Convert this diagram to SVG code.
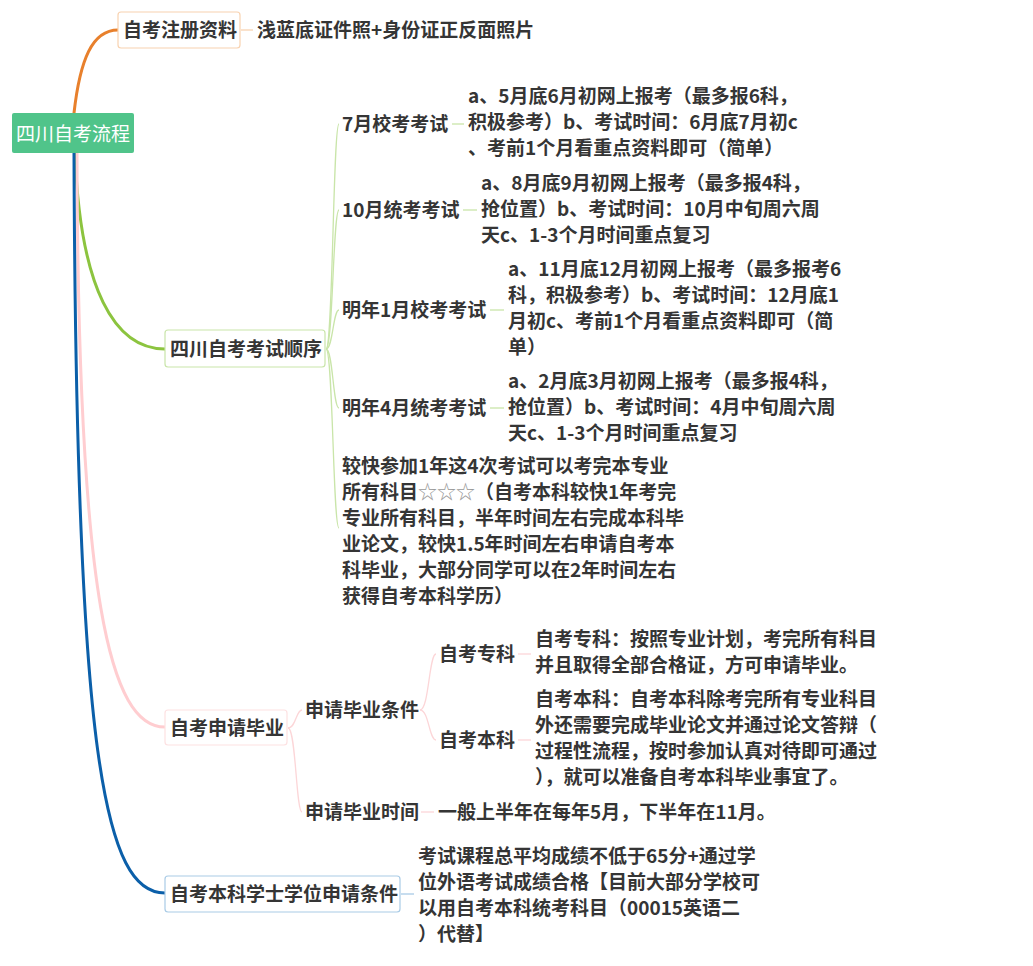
<svg xmlns="http://www.w3.org/2000/svg" width="1033" height="966" viewBox="0 0 1033 966">
<style>
text{font-family:"Noto Sans CJK SC","Noto Sans",sans-serif;font-size:19px;font-weight:bold;fill:#353535}
.root{fill:#fff;font-weight:normal}
.box{fill:#fff;stroke-width:1.2}
.main{fill:none;stroke-width:3;stroke-linecap:round}
.sub{fill:none;stroke-width:1.3}
.star{fill:#9a9a9a;font-weight:normal}
</style>
<rect width="1033" height="966" fill="#fff"/>
<g id="connectors">
<path class="main" stroke="#e8802c" d="M74,113 C80,60 92,30 118,30"/>
<path class="main" stroke="#8cc43f" d="M75,153 C80,290 115,349 165,349"/>
<path class="main" stroke="#ffcdd0" d="M77,153 C78,600 110,727 165,727"/>
<path class="main" stroke="#0b5fa9" d="M74,153 C76,760 105,893 165,893"/>
<path class="sub" stroke="#f8d2b0" d="M241,30 H253"/>
<g stroke="#c9e5a9">
<path class="sub" d="M326,349 C333,349 333,124 339,124"/>
<path class="sub" d="M326,349 C333,349 333,210 339,210"/>
<path class="sub" d="M326,349 C333,349 333,310 339,310"/>
<path class="sub" d="M326,349 C333,349 333,408 339,408"/>
<path class="sub" d="M326,349 C333,349 333,528 339,528"/>
<path class="sub" d="M452,124 H464"/>
<path class="sub" d="M463,210 H477"/>
<path class="sub" d="M490,310 H504"/>
<path class="sub" d="M490,408 H504"/>
</g>
<g stroke="#fcd6d8">
<path class="sub" d="M288,728 C296,728 296,710 302,710"/>
<path class="sub" d="M288,728 C296,728 296,812 302,812"/>
<path class="sub" d="M420,710 C429,710 429,654 436,654"/>
<path class="sub" d="M420,710 C429,710 429,740 436,740"/>
<path class="sub" d="M518,654 H531"/>
<path class="sub" d="M518,740 H531"/>
<path class="sub" d="M421,812 H434"/>
</g>
<path class="sub" stroke="#a9cbe6" d="M401,894 H414"/>
</g>
<g id="root">
<rect x="12" y="113" width="122" height="40" rx="2" fill="#50c48a"/>
<text class="root" x="16" y="141">四川自考流程</text>
</g>
<g id="reg">
<rect class="box" x="118" y="12" width="122" height="36" rx="3" stroke="#f8d2b0"/>
<text x="123" y="37">自考注册资料</text>
</g>
<g id="reg-leaf"><text x="257" y="37">浅蓝底证件照+身份证正反面照片</text></g>
<g id="order">
<rect class="box" x="165" y="330" width="160" height="37" rx="3" stroke="#c9e5a9"/>
<text x="170" y="356">四川自考考试顺序</text>
</g>
<g id="jul"><text x="342" y="131">7月校考考试</text></g>
<g id="jul-leaf">
<text x="468" y="103">a、5月底6月初网上报考（最多报6科，</text>
<text x="468" y="129">积极参考）b、考试时间：6月底7月初c</text>
<text x="468" y="155">、考前1个月看重点资料即可（简单）</text>
</g>
<g id="oct"><text x="342" y="217">10月统考考试</text></g>
<g id="oct-leaf">
<text x="481" y="190">a、8月底9月初网上报考（最多报4科，</text>
<text x="481" y="216">抢位置）b、考试时间：10月中旬周六周</text>
<text x="481" y="242">天c、1-3个月时间重点复习</text>
</g>
<g id="jan"><text x="342" y="317">明年1月校考考试</text></g>
<g id="jan-leaf">
<text x="508" y="276">a、11月底12月初网上报考（最多报考6</text>
<text x="508" y="302">科，积极参考）b、考试时间：12月底1</text>
<text x="508" y="328">月初c、考前1个月看重点资料即可（简</text>
<text x="508" y="354">单）</text>
</g>
<g id="apr"><text x="342" y="415">明年4月统考考试</text></g>
<g id="apr-leaf">
<text x="508" y="388">a、2月底3月初网上报考（最多报4科，</text>
<text x="508" y="414">抢位置）b、考试时间：4月中旬周六周</text>
<text x="508" y="440">天c、1-3个月时间重点复习</text>
</g>
<g id="fast">
<text x="342" y="473">较快参加1年这4次考试可以考完本专业</text>
<text x="342" y="499">所有科目<tspan class="star">☆☆☆</tspan>（自考本科较快1年考完</text>
<text x="342" y="525">专业所有科目，半年时间左右完成本科毕</text>
<text x="342" y="551">业论文，较快1.5年时间左右申请自考本</text>
<text x="342" y="577">科毕业，大部分同学可以在2年时间左右</text>
<text x="342" y="603">获得自考本科学历）</text>
</g>
<g id="grad">
<rect class="box" x="165" y="710" width="122" height="35" rx="3" stroke="#fde1e2"/>
<text x="170" y="735">自考申请毕业</text>
</g>
<g id="cond"><text x="305" y="717">申请毕业条件</text></g>
<g id="zk"><text x="439" y="661">自考专科</text></g>
<g id="zk-leaf">
<text x="535" y="646">自考专科：按照专业计划，考完所有科目</text>
<text x="535" y="672">并且取得全部合格证，方可申请毕业。</text>
</g>
<g id="bk"><text x="439" y="747">自考本科</text></g>
<g id="bk-leaf">
<text x="535" y="706">自考本科：自考本科除考完所有专业科目</text>
<text x="535" y="732">外还需要完成毕业论文并通过论文答辩（</text>
<text x="535" y="758">过程性流程，按时参加认真对待即可通过</text>
<text x="535" y="784">），就可以准备自考本科毕业事宜了。</text>
</g>
<g id="time"><text x="305" y="819">申请毕业时间</text></g>
<g id="time-leaf"><text x="438" y="819">一般上半年在每年5月，下半年在11月。</text></g>
<g id="degree">
<rect class="box" x="165" y="876" width="235" height="36" rx="3" stroke="#a9cbe6"/>
<text x="170" y="901">自考本科学士学位申请条件</text>
</g>
<g id="degree-leaf">
<text x="418" y="863">考试课程总平均成绩不低于65分+通过学</text>
<text x="418" y="889">位外语考试成绩合格【目前大部分学校可</text>
<text x="418" y="915">以用自考本科统考科目（00015英语二</text>
<text x="418" y="941">）代替】</text>
</g>
</svg>
